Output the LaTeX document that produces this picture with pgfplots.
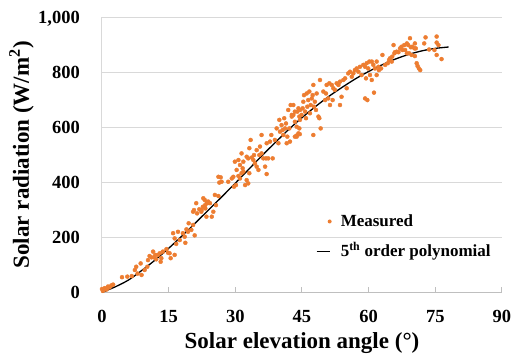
\documentclass[border=0pt]{standalone}
\usepackage{fontspec}
\setmainfont{Liberation Serif}
\usepackage{pgfplots}
\pgfplotsset{compat=1.18}
\usepackage{pgfplotstable}

\definecolor{meas}{RGB}{237,125,49}
\definecolor{gridc}{RGB}{217,217,217}
\definecolor{axisc}{RGB}{191,191,191}

% Measured irradiance against solar elevation
\pgfplotstableread{
x y
0.0 12
0.3 8
0.6 15
1.0 10
1.35 21
1.7 18
2.1 25
0.2 5
2.5 28
1.2 16
4.5 55
5.7 57
6.7 59
7.4 81
7.7 93
8.0 68
8.7 105
8.9 63
9.6 81
10.2 93
10.35 117
10.7 132
11.1 127
11.5 148
11.7 127
12.0 136
12.2 120
12.6 136
13.0 142
13.35 124
13.2 111
13.7 148
14.5 157
14.85 144
15.2 142
15.45 124
16.0 215
16.35 136
16.35 196
16.7 176
17.1 220
17.5 190
18.2 215
18.6 202
18.75 180
19.0 229
19.35 220
19.5 251
20.1 227
20.5 245
20.85 207
20.5 293
20.7 299
21.2 324
21.4 287
21.9 302
22.35 293
22.7 311
23.1 336
23.25 305
23.5 275
23.7 324
22.4 299
22.8 342
23.2 317
23.6 326
23.9 330
24.3 324
24.7 275
25.05 293
25.4 354
25.65 317
26.2 350
26.2 420
26.7 418
26.9 402
26.4 399
28.4 402
29.2 414
29.55 420
29.7 384
30.15 390
30.3 445
30.7 423
31.05 414
31.4 433
31.65 451
31.8 439
32.2 390
32.55 408
32.9 396
33.15 433
29.9 475
30.7 481
31.4 505
31.05 463
31.8 475
32.55 493
32.9 487
33.15 524
33.45 554
33.7 490
34.05 481
34.4 469
34.2 499
34.8 517
34.8 457
35.2 445
35.4 499
35.55 530
35.9 572
35.9 505
36.3 487
36.7 457
36.9 487
37.05 430
37.05 542
37.4 487
37.8 548
38.1 572
38.4 487
38.9 554
39.3 596
39.7 542
39.9 627
40.05 584
40.4 608
40.65 590
40.8 572
41.0 633
41.2 596
41.4 614
41.55 542
41.7 566
41.9 663
42.15 596
42.3 548
42.45 681
42.7 639
43.05 645
43.4 620
43.4 566
43.8 566
43.95 657
44.2 669
44.4 639
44.4 596
42.7 645
43.05 681
43.4 657
43.8 602
44.2 578
44.55 663
44.55 627
44.9 645
45.15 669
45.3 693
45.45 717
45.7 657
45.9 633
46.05 723
46.2 675
46.4 699
46.65 730
46.8 651
46.95 681
47.2 705
47.4 717
47.55 754
47.7 675
47.9 693
48.15 663
48.3 723
48.7 639
48.9 633
49.05 772
49.2 596
49.8 730
50.2 699
50.4 723
50.55 754
50.9 705
51.15 760
51.3 681
51.7 754
51.9 699
52.05 742
52.4 736
52.8 760
53.2 754
53.55 766
53.9 711
53.55 681
54.3 772
54.7 778
55.05 742
55.4 796
55.8 802
56.2 784
56.55 796
56.9 808
57.3 814
57.7 802
58.05 820
58.4 790
58.8 827
59.2 820
59.4 778
59.55 833
59.7 699
59.2 705
59.9 814
60.15 839
60.3 790
60.7 839
60.7 772
61.05 827
61.2 726
61.4 814
61.8 839
62.2 820
47.55 572
43.8 570
44.5 575
61.8 790
62.3 808
62.8 814
63.1 863
63.7 827
64.3 833
64.6 845
64.8 851
65.2 839
65.3 857
65.6 899
65.8 869
65.9 873
66.3 875
66.7 873
67.05 887
67.4 893
67.6 881
68.0 899
68.2 881
68.6 869
68.6 905
68.9 899
69.1 869
69.3 924
69.5 891
69.7 863
69.8 893
70.3 887
70.4 905
70.4 859
70.6 887
70.8 833
71.0 823
71.3 814
71.6 808
72.5 905
72.8 927
73.6 883
74.8 881
75.3 930
75.3 908
75.7 899
75.3 863
76.4 848
}\measured

% Fifth-order polynomial fit, evaluated every 3 degrees
\pgfplotstableread{
x y
0 0
3 20
6 45
9 80
12 118
15 160
18 205
21 252
24 300
27 348
30 397
33 447
36 497
39 545
42 592
45 635
48 675
51 712
54 745
57 776
60 803
63 827
66 848
69 865
72 878
75 887
78 892
}\polyfit

\begin{document}
\begin{tikzpicture}
\useasboundingbox (-102bp,-64.7bp) rectangle (417bp,292.3bp);
\begin{axis}[
  scale only axis,
  width=400bp, height=275bp,
  xmin=0, xmax=90, ymin=0, ymax=1000,
  xtick={0,15,...,90},
  ytick={0,200,...,1000},
  axis x line*=bottom,
  axis y line*=left,
  x axis line style={draw=axisc, line width=1bp},
  y axis line style={draw=gridc, line width=1bp},
  ymajorgrids,
  major grid style={draw=gridc, line width=1bp},
  tick align=inside,
  major tick length=5bp,
  xtick style={draw=axisc, line width=1bp},
  ytick style={draw=none},
  clip=false,
  /pgf/number format/assume math mode=true,
  /pgf/number format/1000 sep={,},
  tick label style={font=\fontsize{18.5bp}{20bp}\selectfont\bfseries, inner sep=0pt},
  xticklabel style={anchor=base, yshift=-29.7bp},
  yticklabel style={anchor=base east, xshift=-22bp, yshift=-6.2bp},
  xlabel={Solar elevation angle (°)},
  ylabel={Solar radiation (W/m\textsuperscript{2})},
  label style={font=\fontsize{23bp}{25bp}\selectfont\bfseries},
  xlabel style={at={(axis description cs:0.5,-0.203)}, anchor=base},
  ylabel style={at={(axis description cs:-0.183,0.5)}, anchor=base},
  legend style={draw=none, fill=none, inner sep=0pt, outer sep=0pt,
    at={(axis description cs:0.535,0.2775)}, anchor=north west,
    row sep=19bp, column sep=9bp,
    nodes={inner sep=0pt, text height=11bp, text depth=0bp},
    font=\fontsize{17bp}{19bp}\selectfont\bfseries},
  legend cell align=left,
]
\addplot[only marks, mark=*, mark size=2bp, color=meas, mark options={draw=none, fill=meas},
  legend image code/.code={\path[draw=none, fill=none] (0bp,0bp) rectangle (13bp,0bp);
    \path[draw=none, fill=meas] (13bp,0bp) circle[radius=2bp];}]
  table[x=x, y=y] {\measured};
\addlegendentry{Measured}
\addplot[black, line width=1.3bp, smooth,
  legend image code/.code={\draw[black, line width=1.3bp] (0bp,0bp) -- (13bp,0bp);
    \path[draw=none] (15bp,0bp) circle[radius=0.1bp];}]
  table[x=x, y=y] {\polyfit};
\addlegendentry{5\textsuperscript{th} order polynomial}
\end{axis}
\end{tikzpicture}
\end{document}
